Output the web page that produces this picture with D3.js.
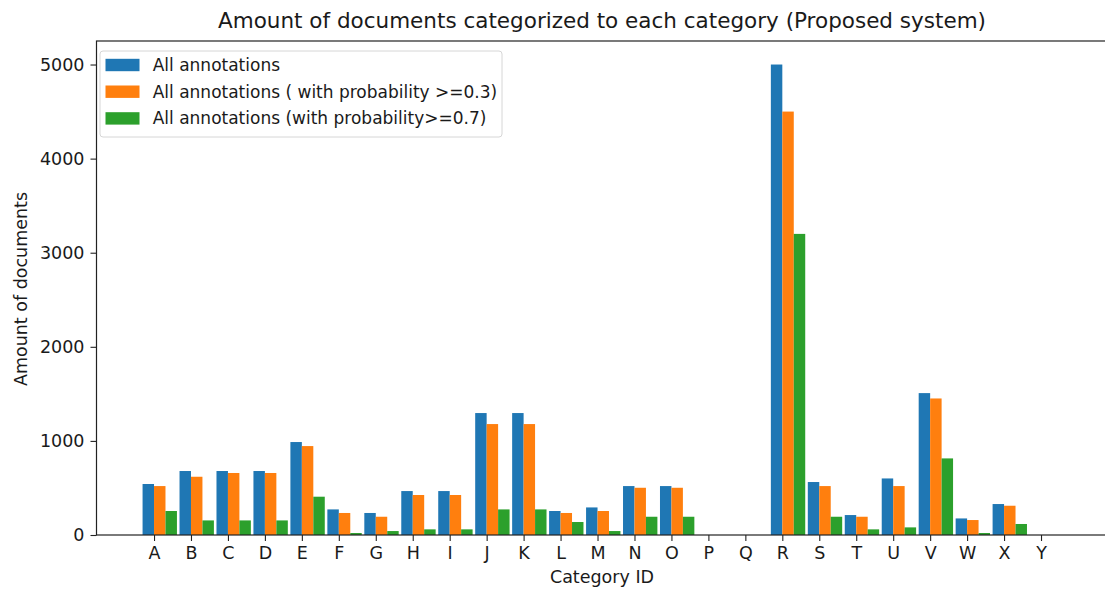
<!DOCTYPE html>
<html>
<head>
<meta charset="utf-8">
<script src="https://cdn.jsdelivr.net/npm/d3@7"></script>
<style>
  body { margin: 0; background: #fff; }
  text { font-family: "DejaVu Sans", sans-serif; fill: #1a1a1a; }
</style>
</head>
<body>
<div id="chart"></div>
<script>
// category ids on the x axis
var categories = ["A","B","C","D","E","F","G","H","I","J","K","L","M","N","O","P","Q","R","S","T","U","V","W","X","Y"];

var allAnnotations = [542,680,680,680,988,272,234,467,467,1296,1296,255,293,520,520,0,0,5000,563,212,601,1508,176,329,0];
var withProb03    = [520,619,659,659,945,234,194,425,425,1179,1179,234,255,502,502,0,0,4500,520,194,520,1451,159,311,0];
var withProb07    = [255,155,155,155,407,21,42,60,60,272,272,138,42,194,194,0,0,3200,194,60,81,814,21,117,0];

var seriesNames = ["All annotations", "All annotations ( with probability >=0.3)", "All annotations (with probability>=0.7)"];
var colors = ["#1f77b4", "#ff7f0e", "#2ca02c"];
var yTicks = [0, 1000, 2000, 3000, 4000, 5000];

var W = 1105, H = 591;
var plotLeft = 96.5, plotRight = 1110, plotTop = 41, plotBottom = 535;
var bw = 0.31; // bar width in category units

var svg = d3.select("#chart").append("svg")
    .attr("width", W).attr("height", H);
svg.append("rect").attr("width", W).attr("height", H).attr("fill", "#fff");

// matplotlib style 5% margins around the bars
var n = categories.length;
var lo = -bw, hi = (n - 1) + 2 * bw;
var pad = (hi - lo) * 0.05;
var x = d3.scaleLinear().domain([lo - pad, hi + pad]).range([plotLeft, plotRight]);
var y = d3.scaleLinear().domain([0, 5250]).range([plotBottom, plotTop]);

var series = [allAnnotations, withProb03, withProb07];
series.forEach(function(vals, s) {
  svg.append("g").selectAll("rect")
    .data(vals)
    .enter().append("rect")
      .attr("x", function(d, i) { return x(i + (s - 1) * bw); })
      .attr("width", function(d, i) { return x(i + s * bw) - x(i + (s - 1) * bw); })
      .attr("y", function(d) { return y(d); })
      .attr("height", function(d) { return y(0) - y(d); })
      .attr("fill", colors[s]);
});

// axes
var xAxis = d3.axisBottom(x)
    .tickValues(d3.range(n))
    .tickFormat(function(i) { return categories[i]; })
    .tickSize(6).tickPadding(6);
var gx = svg.append("g").attr("transform", "translate(0," + plotBottom + ")").call(xAxis);
gx.select(".domain").remove();

var yAxis = d3.axisLeft(y).tickValues(yTicks).tickFormat(d3.format("d")).tickSize(6).tickPadding(6);
var gy = svg.append("g").attr("transform", "translate(" + plotLeft + ",0)").call(yAxis);
gy.select(".domain").remove();

[gx, gy].forEach(function(g) {
  g.selectAll("text").style("font-size", "17.5px").attr("fill", "#1a1a1a");
  g.selectAll("line").attr("stroke", "#222").attr("stroke-width", 1.1);
});

// spines
svg.append("rect")
  .attr("x", plotLeft).attr("y", plotTop)
  .attr("width", plotRight - plotLeft).attr("height", plotBottom - plotTop)
  .attr("fill", "none").attr("stroke", "#222").attr("stroke-width", 1.2);

// labels
svg.append("text")
  .attr("x", 602).attr("y", 28)
  .attr("text-anchor", "middle")
  .style("font-size", "21.5px")
  .text("Amount of documents categorized to each category (Proposed system)");

svg.append("text")
  .attr("x", 602).attr("y", 583)
  .attr("text-anchor", "middle")
  .style("font-size", "17.5px")
  .text("Category ID");

svg.append("text")
  .attr("transform", "translate(27,289) rotate(-90)")
  .attr("text-anchor", "middle")
  .style("font-size", "17.5px")
  .text("Amount of documents");

// legend
var lg = svg.append("g");
lg.append("rect")
  .attr("x", 100).attr("y", 51)
  .attr("width", 402).attr("height", 86)
  .attr("rx", 3)
  .attr("fill", "#fff").attr("fill-opacity", 0.8)
  .attr("stroke", "#d6d6d6");
seriesNames.forEach(function(name, i) {
  var cy = 65 + i * 26.7;
  lg.append("rect")
    .attr("x", 105.5).attr("y", cy - 6.2)
    .attr("width", 34).attr("height", 12.4)
    .attr("fill", colors[i]);
  lg.append("text")
    .attr("x", 152.7).attr("y", cy)
    .attr("dy", "0.35em")
    .style("font-size", "17px")
    .text(name);
});
</script>
</body>
</html>
